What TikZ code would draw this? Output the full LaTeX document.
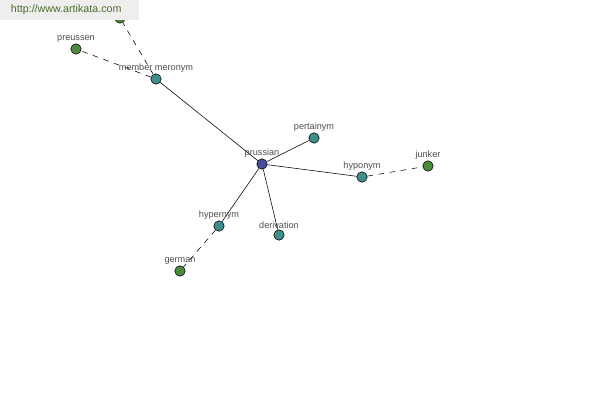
\documentclass[tikz,border=0pt]{standalone}
\usepackage{fontspec}
\setmainfont{Liberation Sans}
\usetikzlibrary{backgrounds}
\definecolor{rel}{HTML}{3F8E8C}
\definecolor{word}{HTML}{4E8A3E}
\definecolor{head}{HTML}{4A4C9A}
\definecolor{urlbg}{HTML}{EEEEEE}
\definecolor{urltxt}{HTML}{4C6B2A}

\begin{document}
\begin{tikzpicture}[
      x=0.025cm, y=-0.025cm,
      font=\fontsize{6.5}{7}\selectfont,
      dot/.style={draw, circle, inner sep=0pt, minimum size=2.6mm, thin},
      relnode/.style={dot, fill=rel},
      wordnode/.style={dot, fill=word},
      headnode/.style={dot, fill=head},
      lbl/.style={text=black!70, inner sep=0.3pt},
      solidedge/.style={thin},
      dashedge/.style={thin, dashed, dash pattern=on 4pt off 4pt},
    ]
    \useasboundingbox (0,0) rectangle (600,400);
    \node[headnode, label={[lbl]above:prussian}] (prussian) at (262,164) {};
    \node[relnode, label={[lbl]above:member meronym}] (meronym) at (156,79) {};
    \node[relnode, label={[lbl]above:pertainym}] (pertainym) at (314,138) {};
    \node[relnode, label={[lbl]above:hyponym}] (hyponym) at (362,177) {};
    \node[relnode, label={[lbl]above:hypernym}] (hypernym) at (219,226) {};
    \node[relnode, label={[lbl]above:derivation}] (derivation) at (279,235) {};
    \node[wordnode, label={[lbl]above:preussen}] (preussen) at (76,49) {};
    \node[wordnode] (hidden) at (120,18) {};
    \node[wordnode, label={[lbl]above:junker}] (junker) at (428,166) {};
    \node[wordnode, label={[lbl]above:german}] (german) at (180,271) {};
    \begin{scope}[on background layer]
      \draw[solidedge] (prussian)--(meronym); \draw[solidedge] (prussian)--(pertainym);
      \draw[solidedge] (prussian)--(hyponym); \draw[solidedge] (prussian)--(hypernym);
      \draw[solidedge] (prussian)--(derivation);
      \draw[dashedge] (meronym)--(preussen); \draw[dashedge] (meronym)--(hidden);
      \draw[dashedge] (hyponym)--(junker); \draw[dashedge] (hypernym)--(german);
    \end{scope}
    % site banner on top
    \node[fill=urlbg, minimum width=139*0.025cm, minimum height=20*0.025cm,
      anchor=north west, inner sep=0pt] (banner) at (0,0) {};
    \node[text=urltxt, font=\fontsize{7.6}{8}\selectfont, anchor=west] (url)
      at (6,10) {http://www.artikata.com};
  \end{tikzpicture}
\end{document}
